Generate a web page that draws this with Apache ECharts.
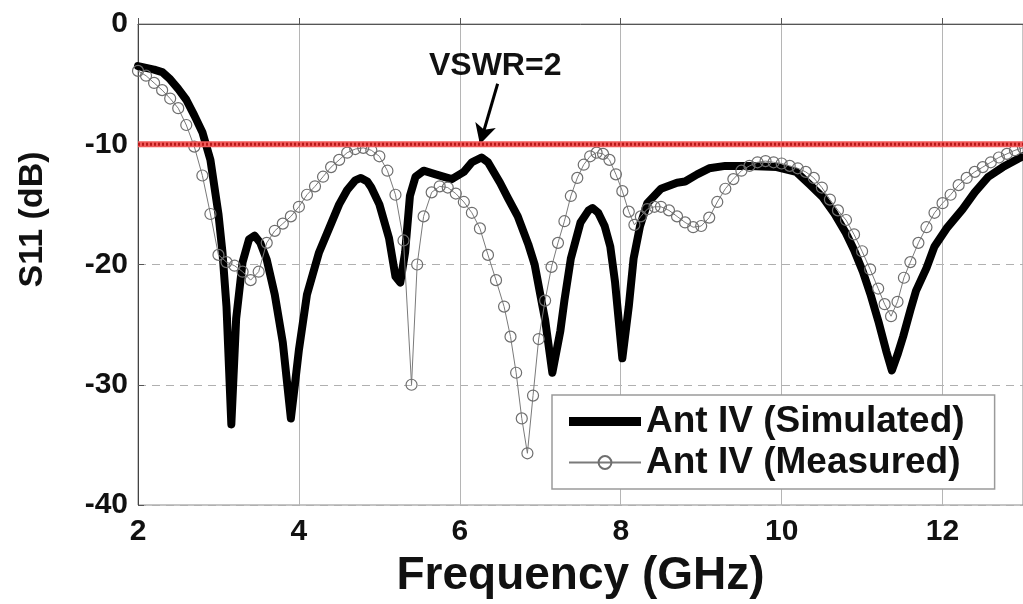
<!DOCTYPE html>
<html>
<head>
<meta charset="utf-8">
<script src="https://cdn.jsdelivr.net/npm/echarts@6/dist/echarts.min.js"></script>
<style>
html,body{margin:0;padding:0;background:#fff;}
#chart{width:1023px;height:604px;}
</style>
</head>
<body>
<div id="chart"></div>
<script>
// ---- Data ----
var simFreq = [2.0,2.2,2.3,2.4,2.5,2.6,2.7,2.8,2.9,3.0,3.05,3.1,3.16,3.22,3.3,3.38,3.45,3.52,3.6,3.7,3.8,3.9,3.95,4.0,4.1,4.25,4.4,4.5,4.6,4.7,4.77,4.85,4.9,5.0,5.12,5.2,5.26,5.32,5.38,5.45,5.55,5.7,5.9,6.05,6.15,6.27,6.35,6.5,6.6,6.72,6.85,6.93,7.0,7.06,7.15,7.25,7.3,7.38,7.5,7.6,7.65,7.72,7.8,7.87,7.93,8.02,8.1,8.16,8.24,8.33,8.5,8.7,8.8,8.95,9.1,9.3,9.6,9.94,10.18,10.34,10.51,10.65,10.8,10.9,11.01,11.11,11.21,11.3,11.37,11.44,11.51,11.6,11.67,11.8,11.9,12.05,12.25,12.4,12.57,12.75,12.94,13.0];
var simS11 = [-3.5,-3.8,-4.0,-4.6,-5.4,-6.3,-7.6,-9.0,-11.3,-15.8,-19.0,-23.5,-33.3,-24.5,-19.8,-17.9,-17.6,-18.2,-19.6,-22.5,-26.5,-32.8,-30.0,-27.1,-22.5,-19.0,-16.6,-15.0,-13.8,-13.0,-12.8,-13.1,-13.6,-15.0,-17.8,-21.0,-21.5,-19.0,-14.3,-12.7,-12.2,-12.5,-12.9,-12.3,-11.5,-11.1,-11.5,-13.2,-14.5,-16.0,-18.3,-20.0,-22.5,-24.6,-29.0,-25.5,-23.0,-19.5,-16.5,-15.5,-15.3,-15.7,-16.8,-18.5,-21.5,-27.8,-23.5,-19.5,-16.8,-14.9,-13.7,-13.2,-13.1,-12.5,-12.0,-11.8,-11.8,-11.9,-12.3,-13.3,-14.4,-15.7,-17.4,-18.8,-20.6,-22.6,-24.9,-27.2,-28.8,-27.5,-26.0,-23.8,-22.2,-20.3,-18.5,-17.0,-15.4,-14.0,-12.7,-11.9,-11.2,-11.0];

var measFreq = [2.0,2.1,2.2,2.3,2.4,2.5,2.6,2.7,2.8,2.9,3.0,3.1,3.2,3.3,3.4,3.5,3.6,3.7,3.8,3.9,4.0,4.1,4.2,4.3,4.4,4.5,4.6,4.7,4.8,4.9,5.0,5.1,5.2,5.3,5.4,5.47,5.55,5.65,5.75,5.85,5.95,6.05,6.15,6.25,6.35,6.45,6.55,6.63,6.7,6.77,6.84,6.91,6.98,7.06,7.14,7.22,7.3,7.38,7.46,7.54,7.62,7.7,7.78,7.86,7.94,8.02,8.1,8.17,8.25,8.33,8.42,8.5,8.6,8.7,8.8,8.9,9.0,9.1,9.2,9.3,9.4,9.5,9.6,9.7,9.8,9.9,10.0,10.1,10.2,10.3,10.4,10.5,10.6,10.7,10.8,10.9,11.0,11.1,11.2,11.28,11.36,11.44,11.52,11.6,11.7,11.8,11.9,12.0,12.1,12.2,12.3,12.4,12.5,12.6,12.7,12.8,12.9,13.0];
var measS11 = [-3.9,-4.3,-4.9,-5.5,-6.2,-7.0,-8.4,-10.2,-12.6,-15.8,-19.2,-19.8,-20.1,-20.6,-21.3,-20.6,-18.2,-17.2,-16.6,-16.0,-15.2,-14.2,-13.5,-12.7,-11.9,-11.3,-10.7,-10.4,-10.3,-10.5,-11.0,-12.2,-14.2,-18.0,-30.0,-20.0,-16.0,-14.0,-13.5,-13.6,-14.1,-14.8,-15.7,-17.0,-19.2,-21.3,-23.5,-26.0,-29.0,-32.8,-35.7,-30.9,-26.2,-23.0,-20.2,-18.2,-16.4,-14.3,-12.8,-11.7,-11.0,-10.7,-10.8,-11.3,-12.5,-13.9,-15.6,-16.7,-16.0,-15.4,-15.2,-15.2,-15.5,-16.0,-16.5,-16.9,-16.8,-16.1,-14.8,-13.7,-12.9,-12.2,-11.8,-11.5,-11.4,-11.5,-11.6,-11.8,-12.0,-12.3,-12.8,-13.6,-14.6,-15.5,-16.3,-17.5,-18.9,-20.4,-22.0,-23.3,-24.3,-23.1,-21.1,-19.8,-18.2,-16.9,-15.7,-14.9,-14.2,-13.4,-12.8,-12.3,-11.9,-11.5,-11.1,-10.8,-10.5,-10.3];

var vswrFreq = [2, 13];
var vswrLevel = [-10, -10];
var vswrLabel = 'VSWR=2';
var vswrLabelAt = [6.44, -3.5];
var arrowFrom = [6.47, -4.97];
var arrowTo = [6.25, -10.0];

var xTicks = [2, 4, 6, 8, 10, 12];
var yTicks = [0, -10, -20, -30, -40];

var nameSim = 'Ant IV (Simulated)';
var nameMeas = 'Ant IV (Measured)';

function zip(a, b) { return a.map(function (v, i) { return [v, b[i]]; }); }

var FONT = '"Liberation Sans", Arial, Helvetica, sans-serif';

var chart = echarts.init(document.getElementById('chart'), null, {renderer: 'canvas'});
chart.setOption({
  backgroundColor: '#ffffff',
  animation: false,
  textStyle: {fontFamily: FONT},
  grid: {left: 138, top: 24, width: 890, height: 490, show: true, borderColor: '#8a8a8a', borderWidth: 1, backgroundColor: '#ffffff'},
  xAxis: {
    type: 'value', min: 2, max: 13, interval: 2,
    name: 'Frequency (GHz)', nameLocation: 'middle', nameGap: 48,
    nameTextStyle: {fontFamily: FONT, fontSize: 46, fontWeight: 'bold', color: '#111'},
    axisLine: {show: true, lineStyle: {color: '#555', width: 1}},
    axisTick: {show: true, inside: true, length: 6, lineStyle: {color: '#555'}},
    axisLabel: {fontFamily: FONT, fontSize: 30, fontWeight: 'bold', color: '#111', margin: 12, showMaxLabel: false,
      formatter: function (v) { return xTicks.indexOf(v) >= 0 ? String(v) : ''; }},
    splitLine: {show: true, lineStyle: {color: '#b5b5b5', width: 1, type: 'solid'}}
  },
  yAxis: {
    type: 'value', min: -40, max: 0, interval: 10,
    name: 'S11 (dB)', nameLocation: 'middle', nameGap: 88,
    nameTextStyle: {fontFamily: FONT, fontSize: 34, fontWeight: 'bold', color: '#111', padding: [0, 0, 0, 90]},
    axisLine: {show: true, lineStyle: {color: '#444', width: 1}},
    axisTick: {show: true, inside: true, length: 6, lineStyle: {color: '#555'}},
    axisLabel: {fontFamily: FONT, fontSize: 30, fontWeight: 'bold', color: '#111', margin: 10,
      formatter: function (v) { return yTicks.indexOf(v) >= 0 ? String(v) : ''; }},
    splitLine: {show: true, lineStyle: {color: '#b0b0b0', width: 1, type: [8, 6]}}
  },
  legend: {
    data: [
      {name: nameSim, icon: 'path://M0,0L72,0L72,9L0,9Z', itemStyle: {color: '#000', borderWidth: 0}},
      {name: nameMeas}
    ],
    left: 552, top: 395, orient: 'vertical', symbolKeepAspect: true,
    backgroundColor: '#ffffff', borderColor: '#9a9a9a', borderWidth: 1.5,
    padding: [8, 30, 8, 16], itemGap: 4, itemWidth: 72, itemHeight: 16,
    textStyle: {fontFamily: FONT, fontSize: 37, fontWeight: 'bold', color: '#111'}
  },
  series: [
    {
      name: nameSim, type: 'line', data: zip(simFreq, simS11),
      showSymbol: false, symbol: 'none', z: 3,
      lineStyle: {color: '#000', width: 8, join: 'round', cap: 'round'},
      itemStyle: {color: '#000'}
    },
    {
      name: nameMeas, type: 'line', data: zip(measFreq, measS11),
      symbol: 'circle', symbolSize: 11, showSymbol: true, z: 4,
      lineStyle: {color: '#7a7a7a', width: 1},
      itemStyle: {color: 'rgba(255,255,255,0)', borderColor: '#6e6e6e', borderWidth: 1.2}
    },
    {
      name: 'vswrBase', type: 'line', data: zip(vswrFreq, vswrLevel),
      symbol: 'none', z: 5, silent: true,
      lineStyle: {color: '#f05a5a', width: 6}
    },
    {
      name: 'vswrDots', type: 'line', data: zip(vswrFreq, vswrLevel),
      symbol: 'none', z: 6, silent: true,
      lineStyle: {color: '#b81818', width: 3, type: [2, 2]},
      markLine: {
        silent: true, symbol: ['none', 'arrow'], symbolSize: [16, 20],
        lineStyle: {color: '#000', width: 3, type: 'solid'},
        label: {show: false},
        data: [[{coord: arrowFrom}, {coord: arrowTo}]]
      },
      markPoint: {
        silent: true, symbol: 'circle', symbolSize: 0,
        label: {show: true, formatter: vswrLabel, fontFamily: FONT, fontSize: 32, fontWeight: 'bold', color: '#111'},
        data: [{coord: vswrLabelAt}]
      }
    }
  ]
});
</script>
</body>
</html>
